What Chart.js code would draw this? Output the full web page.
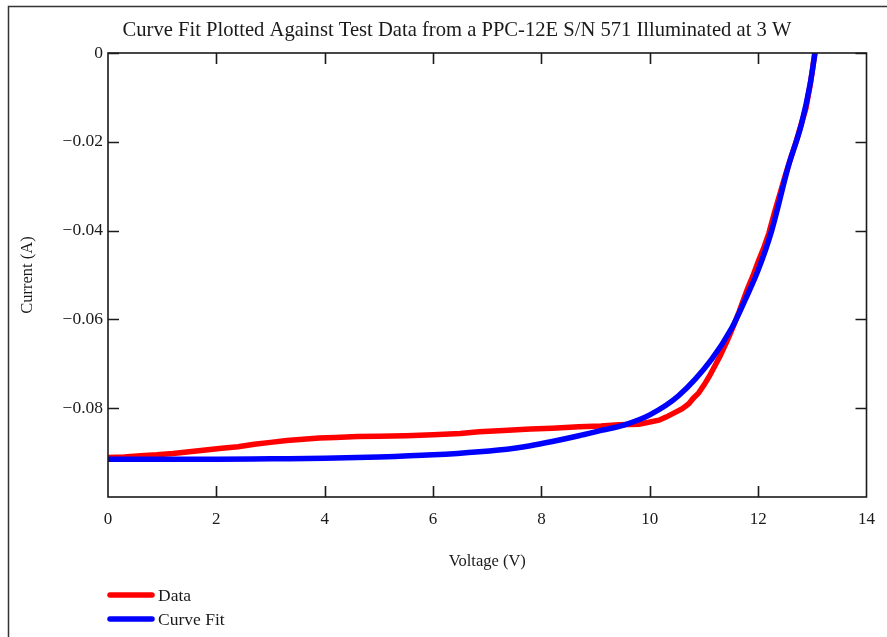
<!DOCTYPE html>
<html>
<head>
<meta charset="utf-8">
<script src="https://cdn.jsdelivr.net/npm/chart.js@4.4.0/dist/chart.umd.min.js"></script>
<style>
  html, body { margin: 0; padding: 0; background: #fff; }
  #wrap { position: relative; width: 887px; height: 637px; }
</style>
</head>
<body>
<div id="wrap"><canvas id="ivChart" width="887" height="637"></canvas></div>
<script>
// Measured I-V sweep (voltage in V, current in A)
const dataV = [0, 0.3, 0.6, 0.9, 1.2, 1.5, 1.8, 2.1, 2.4, 2.7, 3.0, 3.3, 3.6, 3.9, 4.2, 4.6, 5.0, 5.5, 6.0, 6.5,
  6.85, 7.3, 7.8, 8.2, 8.69, 9.1, 9.43, 9.8, 10.17, 10.3, 10.46, 10.6, 10.72, 10.8, 10.9, 11.0, 11.1, 11.2, 11.3,
  11.45, 11.55, 11.65, 11.8, 11.9, 12.0, 12.1, 12.2, 12.3, 12.4, 12.5, 12.6, 12.7, 12.8, 12.88, 12.96, 13.0, 13.05];
const dataI = [-0.0911, -0.0910, -0.0907, -0.0905, -0.0902, -0.0898, -0.0894, -0.0890, -0.0887, -0.0881, -0.0877,
  -0.0873, -0.0870, -0.0867, -0.0866, -0.0864, -0.0863, -0.0862, -0.0860, -0.0857, -0.0853, -0.0850, -0.0847,
  -0.0845, -0.0842, -0.0840, -0.0837, -0.0836, -0.0827, -0.0820, -0.0810, -0.0801, -0.0790, -0.0778, -0.0766,
  -0.0748, -0.0728, -0.0705, -0.0682, -0.0642, -0.0613, -0.0582, -0.0532, -0.0503, -0.0470, -0.0440, -0.0405,
  -0.0360, -0.0318, -0.0276, -0.0237, -0.0200, -0.0158, -0.0125, -0.0072, -0.0040, 0.0005];

// Fitted diode curve
const fitV = [0, 1, 2, 3, 4, 5, 6, 6.85, 7.5, 7.77, 8.2, 8.69, 9.1, 9.52, 10.0, 10.53, 11.14, 11.51, 11.76, 12.0,
  12.25, 12.56, 12.8, 12.96, 13.05];
const fitI = [-0.0915, -0.0915, -0.0915, -0.0914, -0.0913, -0.0910, -0.0905, -0.0898, -0.0890, -0.0885, -0.0875,
  -0.0862, -0.0850, -0.0838, -0.0815, -0.0772, -0.0690, -0.0620, -0.0556, -0.0489, -0.0400, -0.0254, -0.0160,
  -0.0070, 0.0];

const xTicks = [0, 2, 4, 6, 8, 10, 12, 14];
const yTicks = [0, -0.02, -0.04, -0.06, -0.08];

const chartTitle = 'Curve Fit Plotted Against Test Data from a PPC-12E S/N 571 Illuminated at 3 W';
const seriesNames = ['Data', 'Curve Fit'];
const seriesColors = ['#ff0000', '#0000ff'];

const serif = '"Liberation Serif", "DejaVu Serif", serif';
const ink = '#1a1a1a';

function toPoints(xs, ys) {
  return xs.map((x, i) => ({ x: x, y: ys[i] }));
}

// Plot frame, inward tick marks, title, legend and page border
const decorations = {
  id: 'decorations',
  afterDatasetsDraw(chart) {
    const ctx = chart.ctx;
    const area = chart.chartArea;
    const xs = chart.scales.x;
    const ys = chart.scales.y;
    const tick = 11;

    ctx.save();
    ctx.strokeStyle = ink;
    ctx.lineWidth = 1.6;
    ctx.strokeRect(area.left, area.top, area.right - area.left, area.bottom - area.top);

    ctx.beginPath();
    xTicks.forEach(v => {
      if (v === xTicks[0] || v === xTicks[xTicks.length - 1]) return;
      const px = Math.round(xs.getPixelForValue(v)) + 0.5;
      ctx.moveTo(px, area.bottom);
      ctx.lineTo(px, area.bottom - tick);
      ctx.moveTo(px, area.top);
      ctx.lineTo(px, area.top + tick);
    });
    yTicks.forEach(v => {
      const py = Math.round(ys.getPixelForValue(v)) + 0.5;
      ctx.moveTo(area.left, py);
      ctx.lineTo(area.left + tick, py);
      ctx.moveTo(area.right, py);
      ctx.lineTo(area.right - tick, py);
    });
    ctx.stroke();
    ctx.restore();
  },
  afterDraw(chart) {
    const ctx = chart.ctx;
    ctx.save();

    // page border
    ctx.strokeStyle = '#333';
    ctx.lineWidth = 1.5;
    ctx.beginPath();
    ctx.moveTo(8.5, 637);
    ctx.lineTo(8.5, 6.5);
    ctx.lineTo(887, 6.5);
    ctx.stroke();

    // title
    ctx.fillStyle = ink;
    ctx.font = '20.6px ' + serif;
    ctx.textAlign = 'center';
    ctx.textBaseline = 'middle';
    ctx.fillText(chartTitle, 457, 31);

    // legend
    ctx.textAlign = 'left';
    ctx.font = '17.5px ' + serif;
    seriesNames.forEach((name, i) => {
      const y = 595 + i * 24;
      ctx.strokeStyle = seriesColors[i];
      ctx.lineWidth = 5.5;
      ctx.lineCap = 'round';
      ctx.beginPath();
      ctx.moveTo(110, y);
      ctx.lineTo(152, y);
      ctx.stroke();
      ctx.fillStyle = ink;
      ctx.fillText(name, 158, y + 1);
    });
    ctx.restore();
  }
};

new Chart(document.getElementById('ivChart'), {
  type: 'scatter',
  data: {
    datasets: [
      {
        label: seriesNames[1],
        data: toPoints(fitV, fitI),
        showLine: true,
        borderColor: seriesColors[1],
        borderWidth: 5.5,
        pointRadius: 0,
        cubicInterpolationMode: 'monotone',
        order: 0
      },
      {
        label: seriesNames[0],
        data: toPoints(dataV, dataI),
        showLine: true,
        borderColor: seriesColors[0],
        borderWidth: 5.5,
        pointRadius: 0,
        tension: 0,
        order: 1
      }
    ]
  },
  options: {
    responsive: false,
    animation: false,
    layout: { padding: { left: 0, top: 53, right: 19, bottom: 0 } },
    plugins: {
      legend: { display: false },
      tooltip: { enabled: false }
    },
    scales: {
      x: {
        type: 'linear',
        min: 0,
        max: 14,
        afterFit(scale) { scale.height = 140; },
        afterBuildTicks(scale) { scale.ticks = xTicks.map(v => ({ value: v })); },
        grid: { display: false, drawTicks: false },
        border: { display: false },
        ticks: {
          padding: 12,
          color: ink,
          font: { family: serif, size: 17 }
        },
        title: {
          display: true,
          text: 'Voltage (V)',
          color: ink,
          font: { family: serif, size: 16.5 },
          padding: { top: 0, bottom: 65 }
        }
      },
      y: {
        type: 'linear',
        min: -0.1,
        max: 0,
        afterFit(scale) { scale.width = 108; },
        afterBuildTicks(scale) { scale.ticks = yTicks.map(v => ({ value: v })); },
        grid: { display: false, drawTicks: false },
        border: { display: false },
        ticks: {
          padding: 5,
          color: ink,
          font: { family: serif, size: 17.5 },
          callback: v => v === 0 ? '0' : '\u2212' + Math.abs(v).toFixed(2)
        },
        title: {
          display: true,
          text: 'Current (A)',
          color: ink,
          font: { family: serif, size: 16.5 },
          padding: { top: 18, bottom: 0 }
        }
      }
    }
  },
  plugins: [decorations]
});
</script>
</body>
</html>
